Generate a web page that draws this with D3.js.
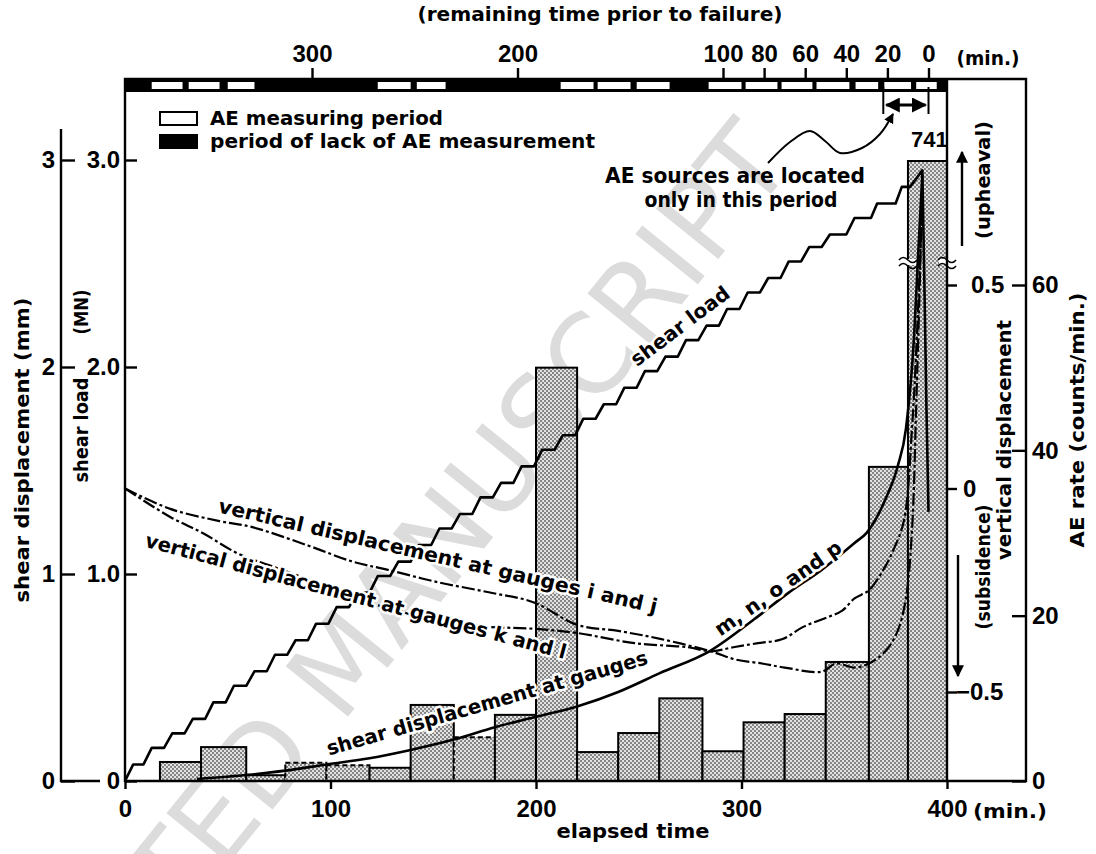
<!DOCTYPE html>
<html>
<head>
<meta charset="utf-8">
<script src="https://cdn.jsdelivr.net/npm/d3@7"></script>
<style>
  body { margin: 0; background: #fff; }
  svg text { font-family: "DejaVu Sans", sans-serif; font-weight: bold; fill: #000; }
  svg .num text, svg text.num { font-family: "Liberation Sans", Arial, sans-serif; font-weight: bold; font-size: 24px; }
  .halo { stroke: #fff; stroke-width: 5px; paint-order: stroke; stroke-linejoin: round; }
</style>
</head>
<body>
<script>
const w = 1096;
const h = 854;

// AE rate histogram (elapsed time in min., counts/min.)
const barStart = [17, 37, 59, 78, 98, 119, 139, 160, 180, 200, 220, 240, 260, 281, 301, 321, 341, 362, 381];
const barEnd = [37, 59, 78, 98, 119, 139, 160, 180, 200, 220, 240, 260, 281, 301, 321, 341, 362, 381, 400];
const aeRate = [2.3, 4.1, 0.7, 2.2, 1.9, 1.6, 9.2, 5.3, 8.0, 50, 3.5, 5.8, 10, 3.6, 7.1, 8.1, 14.4, 38, 741];
const aeEstimated = [false, false, false, true, true, false, false, true, false, false, false, false, false, false, false, false, false, false, false];
const aeClip = 75; // bars above this are cut off (741)

// AE measuring periods (white in the top band), elapsed min.
const measStart = [13, 31, 50, 123, 142, 212, 230, 249, 284, 302, 319.5, 336.5, 355.5, 369.5, 385];
const measEnd = [28, 46, 63, 139, 156, 228, 246, 265, 300, 317.5, 334.5, 352.5, 366.5, 382.5, 395];

const failureTime = 391;
const remainTicks = [300, 200, 100, 80, 60, 40, 20, 0];
const elapsedTicks = [0, 100, 200, 300, 400];
const loadTicks = [0, 1, 2, 3];
const vertTicks = [-0.5, 0, 0.5];
const aeTicks = [0, 20, 40, 60];

// shear load (MN): [elapsed min, load]
const shearLoad = [
  [0, 0], [4, 0.08], [9, 0.08], [13, 0.16], [19, 0.16], [23, 0.23], [29, 0.23], [33, 0.3], [39, 0.3],
  [43, 0.38], [49, 0.38], [53, 0.46], [59, 0.46], [63, 0.53], [69, 0.53], [73, 0.61], [79, 0.61],
  [83, 0.68], [89, 0.68], [93, 0.76], [99, 0.76], [103, 0.84], [109, 0.84], [113, 0.91], [119, 0.91],
  [123, 0.99], [129, 0.99], [133, 1.06], [139, 1.06], [143, 1.14], [149, 1.14], [153, 1.22], [159, 1.22],
  [163, 1.29], [169, 1.29], [173, 1.37], [179, 1.37], [183, 1.44], [189, 1.44], [193, 1.52], [199, 1.52],
  [203, 1.6], [209, 1.6], [213, 1.67], [219, 1.67], [223, 1.75], [229, 1.75], [233, 1.82], [239, 1.82],
  [243, 1.9], [249, 1.9], [253, 1.98], [259, 1.98], [263, 2.05], [269, 2.05], [273, 2.13], [279, 2.13],
  [283, 2.2], [289, 2.2], [293, 2.28], [299, 2.28], [303, 2.36], [309, 2.36], [313, 2.43], [319, 2.43],
  [323, 2.51], [329, 2.51], [333, 2.58], [339, 2.58], [343, 2.64], [351, 2.64], [355, 2.72], [363, 2.72],
  [366, 2.79], [375, 2.79], [378, 2.87], [382, 2.87], [388, 2.95], [389, 2.4], [390, 1.8], [391, 1.3]
];

// shear displacement at gauges m, n, o and p (mm)
const shearDisp = [
  [35, 0.01], [60, 0.03], [78, 0.05], [98, 0.08], [119, 0.11], [139, 0.15], [160, 0.2], [180, 0.26],
  [200, 0.31], [220, 0.36], [240, 0.43], [260, 0.52], [285, 0.63], [306, 0.78], [323, 0.91], [339, 1.02],
  [355, 1.15], [361, 1.2], [370, 1.36], [376, 1.52], [380, 1.7], [384, 2.15], [386, 2.55], [388, 2.93]
];

// vertical displacement (mm), + upheaval / - subsidence
const vertIJ = [
  [0, 0], [22, -0.05], [46, -0.08], [62, -0.095], [89, -0.14], [111, -0.18], [128, -0.2], [152, -0.23],
  [177, -0.255], [199, -0.28], [220, -0.335], [240, -0.35], [261, -0.37], [285, -0.4], [297, -0.42],
  [310, -0.43], [321, -0.44], [339, -0.45], [346, -0.43], [355, -0.44], [362, -0.43], [370, -0.4],
  [376, -0.35], [380, -0.27], [383, -0.1], [385, 0.2], [387, 0.55], [388, 0.75]
];
const vertKL = [
  [0, 0], [22, -0.07], [38, -0.11], [55, -0.16], [71, -0.19], [90, -0.225], [111, -0.27], [133, -0.3],
  [152, -0.33], [177, -0.34], [200, -0.345], [220, -0.355], [248, -0.38], [274, -0.39], [285, -0.4],
  [296, -0.39], [308, -0.38], [320, -0.37], [330, -0.34], [340, -0.32], [349, -0.3], [355, -0.27],
  [362, -0.25], [369, -0.2], [374, -0.15], [379, -0.08], [383, 0.15], [386, 0.45], [388, 0.72]
];

const svg = d3.select("body").append("svg").attr("width", w).attr("height", h);

const x = d3.scaleLinear().domain([0, 400]).range([125, 947]);
const yLoad = d3.scaleLinear().domain([0, 3]).range([781, 160]);
const yVert = d3.scaleLinear().domain([-0.5, 0.5]).range([692, 285]);
const yAE = d3.scaleLinear().domain([0, 60]).range([781, 285]);
const xRemain = d3.scaleLinear().domain([failureTime, 0]).range([x(0), x(failureTime)]);

const topY = 79, bottomY = 781, aeAxisX = 1026;

const defs = svg.append("defs");
const pat = defs.append("pattern").attr("id", "dots")
  .attr("width", 4).attr("height", 4).attr("patternUnits", "userSpaceOnUse");
pat.append("rect").attr("width", 4).attr("height", 4).attr("fill", "#e2e2e2");
pat.append("rect").attr("width", 2).attr("height", 2).attr("fill", "#858585");
pat.append("rect").attr("x", 2).attr("y", 2).attr("width", 2).attr("height", 2).attr("fill", "#858585");
defs.append("clipPath").attr("id", "plotClip").append("rect")
  .attr("x", x(0)).attr("y", 92).attr("width", x(400) - x(0)).attr("height", bottomY - 92);
defs.append("clipPath").attr("id", "pageClip").append("rect").attr("width", w).attr("height", h);
defs.append("marker").attr("id", "arrow").attr("viewBox", "0 0 10 10")
  .attr("refX", 9).attr("refY", 5).attr("markerWidth", 5).attr("markerHeight", 5)
  .attr("orient", "auto-start-reverse").attr("markerUnits", "strokeWidth")
  .append("path").attr("d", "M0,0L10,5L0,10z").attr("fill", "#000");

// watermark
svg.append("g").attr("clip-path", "url(#pageClip)")
  .append("text")
  .attr("transform", "translate(344,661) rotate(-51)")
  .attr("text-anchor", "middle").attr("dominant-baseline", "central")
  .style("font-size", "110px").style("font-weight", "normal").style("fill", "#dcdcdc")
  .text("ACCEPTED MANUSCRIPT");

/* AE rate bars */
svg.append("g").selectAll("rect")
  .data(aeRate)
  .enter()
  .append("rect")
  .attr("x", (d, i) => x(barStart[i]))
  .attr("width", (d, i) => x(barEnd[i]) - x(barStart[i]))
  .attr("y", (d) => yAE(Math.min(d, aeClip)))
  .attr("height", (d) => yAE(0) - yAE(Math.min(d, aeClip)))
  .attr("fill", "url(#dots)")
  .attr("stroke", "#000")
  .attr("stroke-width", 2)
  .attr("stroke-dasharray", (d, i) => (aeEstimated[i] ? "5,3" : null));

// "741" bar label
const last = aeRate.length - 1;
svg.append("text").attr("class", "num")
  .attr("x", (x(barStart[last]) + x(barEnd[last])) / 2 + 2)
  .attr("y", yAE(aeClip) - 14)
  .attr("text-anchor", "middle").style("font-size", "22px")
  .text(aeRate[last]);

/* lines */
const plot = svg.append("g").attr("clip-path", "url(#plotClip)");
const lineLoad = d3.line().x((d) => x(d[0])).y((d) => yLoad(d[1]));
const lineDisp = d3.line().x((d) => x(d[0])).y((d) => yLoad(d[1])).curve(d3.curveMonotoneX);
const lineVert = d3.line().x((d) => x(d[0])).y((d) => yVert(d[1])).curve(d3.curveCatmullRom);

plot.append("path").datum(vertIJ).attr("d", lineVert)
  .attr("fill", "none").attr("stroke", "#000").attr("stroke-width", 2.2)
  .attr("stroke-dasharray", "13,3,3,3");
plot.append("path").datum(vertKL).attr("d", lineVert)
  .attr("fill", "none").attr("stroke", "#000").attr("stroke-width", 2.2)
  .attr("stroke-dasharray", "13,3,3,3");
plot.append("path").datum(shearDisp).attr("d", lineDisp)
  .attr("fill", "none").attr("stroke", "#000").attr("stroke-width", 2.6);
plot.append("path").datum(shearLoad).attr("d", lineLoad)
  .attr("fill", "none").attr("stroke", "#000").attr("stroke-width", 2.6)
  .attr("stroke-linejoin", "round");

/* break marks on the 741 bar and the vertical displacement axis */
const yBreak = 262;
[x(barStart[last]), x(400)].forEach((bx) => {
  svg.append("rect").attr("x", bx - 8).attr("y", yBreak - 3).attr("width", 16).attr("height", 6).attr("fill", "#fff");
  [-3, 3].forEach((o) => {
    svg.append("path")
      .attr("d", `M${bx - 9},${yBreak + o + 1} q4,-5 9,0 t9,0`)
      .attr("fill", "none").attr("stroke", "#000").attr("stroke-width", 1.6);
  });
});

/* top band: AE measuring periods */
svg.append("rect").attr("x", x(0)).attr("y", topY).attr("width", x(400) - x(0)).attr("height", 13).attr("fill", "#000");
svg.append("g").selectAll("rect")
  .data(measStart)
  .enter()
  .append("rect")
  .attr("x", (d) => x(d))
  .attr("y", topY + 3)
  .attr("width", (d, i) => x(measEnd[i]) - x(d))
  .attr("height", 7)
  .attr("fill", "#fff");

/* frame */
const frame = svg.append("g").attr("stroke", "#000").attr("stroke-width", 2.4).attr("fill", "none");
frame.append("path").attr("d", `M${x(0)},${topY}H${aeAxisX}V${bottomY}H${x(0)}Z`);
frame.append("path").attr("d", `M${x(400)},${topY}V${bottomY}`);
frame.append("path").attr("d", `M61,${topY + 50}V${bottomY}H100`);

/* axes */
function styleAxis(g) {
  g.attr("font-size", null).attr("font-family", null).attr("class", "num");
  g.select(".domain").remove();
  g.selectAll(".tick line").attr("stroke-width", 2.4);
}

svg.append("g").attr("transform", "translate(61,0)")
  .call(d3.axisLeft(yLoad).tickValues(loadTicks).tickFormat(d3.format("d")).tickSize(-14).tickPadding(6))
  .call(styleAxis);

svg.append("g").attr("transform", `translate(${x(0)},0)`)
  .call(d3.axisLeft(yLoad).tickValues(loadTicks).tickFormat((d) => (d === 0 ? "0" : d3.format(".1f")(d))).tickSize(-12).tickPadding(5))
  .call(styleAxis);

svg.append("g").attr("transform", `translate(0,${bottomY})`)
  .call(d3.axisBottom(x).tickValues(elapsedTicks).tickSize(8).tickPadding(11))
  .call(styleAxis);

svg.append("g").attr("transform", `translate(0,${topY})`)
  .call(d3.axisTop(xRemain).tickValues(remainTicks).tickSize(11).tickPadding(6))
  .call(styleAxis);

const vAxis = svg.append("g").attr("transform", `translate(${x(400)},0)`)
  .call(d3.axisRight(yVert).tickValues(vertTicks).tickFormat((d) => (d < 0 ? "\u2212" + Math.abs(d) : d)).tickSize(10).tickPadding(4))
  .call(styleAxis);
vAxis.selectAll(".tick text").attr("x", (d) => (d > 0 ? 24 : d === 0 ? 16 : 9));

svg.append("g").attr("transform", `translate(${aeAxisX},0)`)
  .call(d3.axisRight(yAE).tickValues(aeTicks).tickSize(-14).tickPadding(6))
  .call(styleAxis);

/* axis titles */
function label(txt, tx, ty, rot, len, size, cls) {
  const t = svg.append("text")
    .attr("transform", `translate(${tx},${ty}) rotate(${rot})`)
    .attr("text-anchor", "middle")
    .attr("dominant-baseline", "central")
    .style("font-size", size + "px")
    .text(txt);
  if (len) t.attr("textLength", len).attr("lengthAdjust", "spacingAndGlyphs");
  if (cls) t.attr("class", cls);
  return t;
}

label("(remaining time prior to failure)", 600, 14, 0, 365, 19);
label("(min.)", 988, 58, 0, 63, 19);
label("elapsed time", 633, 831, 0, 153, 20);
label("(min.)", 1010, 811, 0, 74, 19);
label("shear displacement (mm)", 22, 450, -90, 305, 19);
label("shear load", 81, 430, -90, 105, 19);
label("(MN)", 81, 312, -90, 45, 19);
label("(upheaval)", 983, 180, -90, 118, 19);
label("(subsidence)", 983, 567, -90, 125, 19);
label("vertical displacement", 1004, 440, -90, 240, 19);
label("AE rate (counts/min.)", 1077, 420, -90, 255, 19);

/* legend */
svg.append("rect").attr("x", 160).attr("y", 112).attr("width", 37).attr("height", 13)
  .attr("fill", "#fff").attr("stroke", "#000").attr("stroke-width", 2);
svg.append("rect").attr("x", 159).attr("y", 134).attr("width", 39).attr("height", 15).attr("fill", "#000");
svg.append("text").attr("x", 210).attr("y", 125).style("font-size", "19px")
  .attr("textLength", 233).attr("lengthAdjust", "spacingAndGlyphs").text("AE measuring period");
svg.append("text").attr("x", 210).attr("y", 148).style("font-size", "19px")
  .attr("textLength", 385).attr("lengthAdjust", "spacingAndGlyphs").text("period of lack of AE measurement");

/* line labels */
label("shear load", 680, 326, -37, 118, 20, "halo");
label("vertical displacement at gauges i and j", 438, 556, 13, 450, 20, "halo");
label("vertical displacement at gauges k and l", 356, 596, 15, 435, 20, "halo");
label("shear displacement at gauges", 487, 703, -16, 333, 20, "halo");
label("m, n, o and p", 778, 588, -35, 150, 20, "halo");

/* annotation: AE sources located period */
label("AE sources are located", 735, 176, 0, 260, 21);
label("only in this period", 741, 200, 0, 193, 21);
const ann = svg.append("g").attr("stroke", "#000").attr("fill", "none").attr("stroke-width", 2);
const a0 = xRemain(22), a1 = xRemain(0);
ann.append("path").attr("d", `M${a0},87V114M${a1},87V114`);
ann.append("path").attr("d", `M${a0 + 3},105H${a1 - 3}`)
  .attr("stroke-width", 3)
  .attr("marker-start", "url(#arrow)").attr("marker-end", "url(#arrow)");
ann.append("path")
  .attr("d", d3.line().curve(d3.curveCatmullRom)([[768, 163], [790, 142], [810, 131], [825, 141], [840, 153], [862, 148], [880, 134], [893, 114]]))
  .attr("marker-end", "url(#arrow)");

/* upheaval / subsidence arrows */
ann.append("path").attr("d", "M962,246V152").attr("marker-end", "url(#arrow)").attr("stroke-width", 2.4);
ann.append("path").attr("d", "M958,555V676").attr("marker-end", "url(#arrow)").attr("stroke-width", 2.4);
</script>
</body>
</html>
